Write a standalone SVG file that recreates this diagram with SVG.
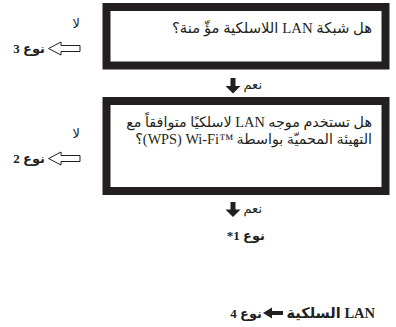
<svg xmlns="http://www.w3.org/2000/svg" width="396" height="327" viewBox="0 0 396 327">
<style>
.box{fill:#fff;stroke:#231f20;stroke-width:8}
.q{font-family:'Liberation Serif','DejaVu Sans',serif;font-size:14.3px;fill:#231f20;direction:rtl;text-anchor:start}
.lbl{font-family:'Liberation Serif','DejaVu Sans',serif;font-size:13px;fill:#231f20;direction:rtl;text-anchor:start}
.b{font-weight:bold}
.solid{fill:#231f20;stroke:none}
.hollow{fill:#fff;stroke:#231f20;stroke-width:1}
</style>
<rect width="396" height="327" fill="#fff"/>
<g id="q1">
<rect class="box" x="106.5" y="7" width="279" height="58.5"/>
<text class="q" x="372" y="33" style="font-size:14.8px">هل شبكة LAN اللاسلكية مؤّ منة؟</text>
</g>
<g id="q2">
<rect class="box" x="106.5" y="101" width="279" height="90"/>
<text class="q" x="372" y="127">هل تستخدم موجه LAN لاسلكيًا متوافقاً مع</text>
<text class="q" x="372" y="144">التهيئة المحميّة بواسطة Wi-Fi™‎‏ (WPS)‏؟</text>
</g>
<g id="type3">
<text class="lbl" x="80" y="28">لا</text>
<text class="lbl b" x="45" y="53">نوع 3</text>
</g>
<g id="type2">
<text class="lbl" x="80" y="138">لا</text>
<text class="lbl b" x="45" y="163">نوع 2</text>
</g>
<g id="type1">
<text class="lbl b" x="265" y="240">نوع 1*</text>
</g>
<g id="wired">
<text class="lbl b" x="375" y="318" style="font-size:14.5px">LAN السلكية</text>
</g>
<g id="type4">
<text class="lbl b" x="262" y="318">نوع 4</text>
</g>
<g id="connectors">
<path class="solid" d="M230.5 78H235.5V86H240.5L233 93.5L225.5 86H230.5Z"/>
<text class="lbl" x="262" y="89">نعم</text>
<path class="solid" d="M230.5 202H235.5V209.5H240.5L233 217L225.5 209.5H230.5Z"/>
<text class="lbl" x="262" y="213">نعم</text>
<path class="hollow" d="M80 45.5V51.5H61V55L48.5 48.5L61 42V45.5Z"/>
<path class="hollow" d="M80 155.5V161.5H61V165L48.5 158.5L61 152V155.5Z"/>
<path class="solid" d="M283 311V315H272V318.5L263 313L272 307.5V311Z"/>
</g>
</svg>
